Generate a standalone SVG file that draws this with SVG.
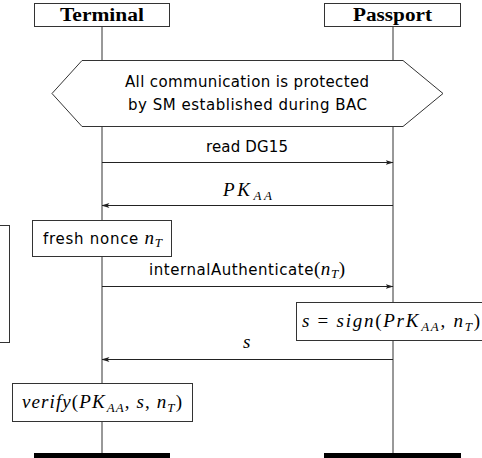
<svg xmlns="http://www.w3.org/2000/svg" width="482" height="458" viewBox="0 0 482 458">
<style>
.box{fill:#fff;stroke:#333;stroke-width:1}
.life{stroke:#333;stroke-width:1;fill:none}
.msg{stroke:#222;stroke-width:1;fill:none;marker-end:url(#ah)}
.hdr{font-family:"Liberation Serif",serif;font-weight:bold;font-size:18px;fill:#000}
.sans{font-family:"DejaVu Sans",sans-serif;font-size:15px;fill:#000}
.math{font-family:"Liberation Serif",serif;font-style:italic;font-size:19px;fill:#000}
.rm{font-style:normal}
.sub{font-size:13px}
.bar{fill:#000}
</style>
<defs>
<marker id="ah" viewBox="0 0 8 6" refX="7.5" refY="3" markerWidth="8" markerHeight="6" markerUnits="userSpaceOnUse" orient="auto">
<path d="M0,0.5 Q3,3 0,5.5 L8,3 Z" fill="#222"/>
</marker>
</defs>
<g id="lifelines">
<line class="life" x1="102" y1="26" x2="102" y2="453"/>
<line class="life" x1="393" y1="26" x2="393" y2="453"/>
</g>
<g id="terminal">
<rect class="box" x="34.5" y="3.5" width="135" height="23"/>
<text class="hdr" x="60" y="21" textLength="84" lengthAdjust="spacingAndGlyphs">Terminal</text>
<rect class="bar" x="34" y="453" width="136" height="5"/>
</g>
<g id="passport">
<rect class="box" x="324.5" y="3.5" width="136" height="23"/>
<text class="hdr" x="353" y="21" textLength="79" lengthAdjust="spacingAndGlyphs">Passport</text>
<rect class="bar" x="324" y="453" width="137" height="5"/>
</g>
<g id="sm">
<polygon class="box" points="82,60.5 403,60.5 443,93.5 403,126.5 82,126.5 52,93.5"/>
<text class="sans" x="125" y="87" textLength="244">All communication is protected</text>
<text class="sans" x="128" y="110" textLength="239">by SM established during BAC</text>
</g>
<g id="connectors">
<line class="msg" x1="102" y1="162.5" x2="393" y2="162.5"/>
<line class="msg" x1="393" y1="205.5" x2="102" y2="205.5"/>
<line class="msg" x1="102" y1="286.5" x2="393" y2="286.5"/>
<line class="msg" x1="393" y1="359.5" x2="102" y2="359.5"/>
</g>
<g id="labels">
<text class="sans" x="206" y="152" textLength="82">read DG15</text>
<text class="math" x="223" y="196" textLength="49">PK<tspan class="sub" dx="1" dy="3.5">AA</tspan></text>
<text class="sans" x="149" y="275" textLength="196">internalAuthenticate<tspan class="math rm">(</tspan><tspan class="math">n<tspan class="sub" dy="3">T</tspan></tspan><tspan class="math rm" dy="-3">)</tspan></text>
<text class="math" x="243" y="348">s</text>
</g>
<g id="left-box">
<rect class="box" x="-20" y="225.5" width="29.5" height="117"/>
</g>
<g id="nonce">
<rect class="box" x="32.5" y="220.5" width="139" height="36"/>
<text class="sans" x="43" y="244" textLength="119">fresh nonce <tspan class="math">n<tspan class="sub" dy="3">T</tspan></tspan></text>
</g>
<g id="sign">
<rect class="box" x="296.5" y="302.5" width="190" height="38"/>
<text class="math" x="302" y="327" textLength="178">s <tspan class="rm">=</tspan> sign<tspan class="rm">(</tspan>PrK<tspan class="sub" dx="1" dy="3.5">AA</tspan><tspan class="rm" dy="-3.5">,</tspan> n<tspan class="sub" dy="3.5">T</tspan><tspan class="rm" dy="-3.5">)</tspan></text>
</g>
<g id="verify">
<rect class="box" x="12.5" y="383.5" width="180" height="38"/>
<text class="math" x="22" y="408" textLength="160">verify<tspan class="rm">(</tspan>PK<tspan class="sub" dx="1" dy="3.5">AA</tspan><tspan class="rm" dy="-3.5">,</tspan> s<tspan class="rm">,</tspan> n<tspan class="sub" dy="3.5">T</tspan><tspan class="rm" dy="-3.5">)</tspan></text>
</g>
</svg>
